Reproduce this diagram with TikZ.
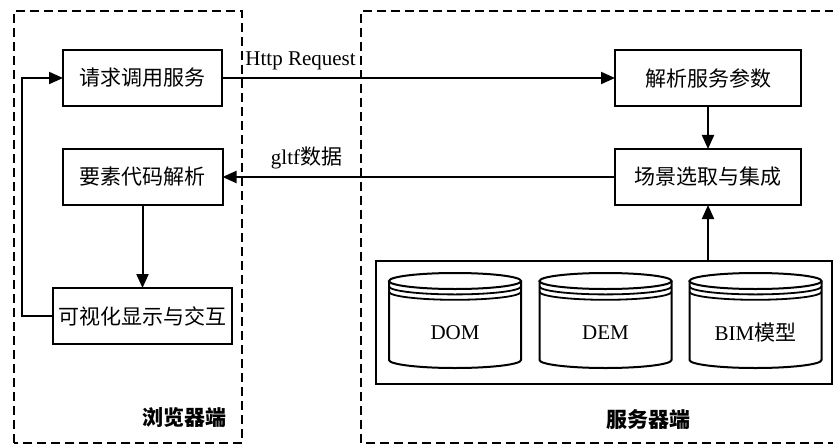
\documentclass[tikz,border=0pt]{standalone}
\usepackage{fontspec}
\setmainfont{Liberation Serif}
\newfontfamily\cjk{Noto Sans CJK SC}
\usetikzlibrary{arrows.meta,positioning}

% database drum: outline, top lid with two rings, centred label
\tikzset{
  pics/drum/.style={code={
    \draw[line width=1pt] (-33pt,19.75pt) -- (-33pt,-19.75pt)
      arc[start angle=180,end angle=360,x radius=33pt,y radius=4pt] -- (33pt,19.75pt);
    \draw[line width=1pt] (0,19.75pt) ellipse[x radius=33pt,y radius=4pt];
    \foreach \d in {2.7,5.4}
      \draw[line width=0.9pt] (-33pt,19.75pt-\d pt) arc[start angle=180,end angle=360,x radius=33pt,y radius=4pt];
    \node (-lbl) at (0,-6pt) {#1};
  }}
}

\begin{document}
\begin{tikzpicture}[
    x=1pt, y=1pt,
    every node/.style={font=\fontsize{10.5pt}{12pt}\selectfont},
    box/.style={draw, line width=1pt, minimum height=28pt, inner sep=0pt, outer sep=0pt},
    arr/.style={-{Triangle[length=7pt,width=6pt]}, line width=1pt},
    frame/.style={dash pattern=on 4.5pt off 2.5pt, line width=0.75pt}
  ]
  \useasboundingbox (0,0) rectangle (416.5,222.5);

  % browser side
  \node[box, minimum width=79.5pt] (req) at (71.25,183.5) {\cjk 请求调用服务};
  \node[box, minimum width=80pt, below=21.5pt of req] (parse) {\cjk 要素代码解析};
  \node[box, minimum width=89.5pt, below=41.5pt of parse] (vis) {\cjk 可视化显示与交互};

  % server side
  \node[box, minimum width=93pt] (param) at (354,183.5) {\cjk 解析服务参数};
  \node[box, minimum width=93pt, below=21.5pt of param] (scene) {\cjk 场景选取与集成};
  \node[draw, line width=1pt, minimum width=228pt, minimum height=61.5pt, inner sep=0pt, outer sep=0pt] (store) at (302,61.25) {};
  \pic (dom) at (227.5,62.25) {drum=DOM};
  \pic (dem) at (302.75,62.25) {drum=DEM};
  \pic (bim) at (377.75,62.25) {drum={BIM{\cjk 模型}}};

  % client / server frames
  \draw[frame] (7,1) rectangle (121,217);
  \draw[frame] (180.5,1) rectangle (430,217);
  \node (brw) at (92,13.5) {\cjk\bfseries 浏览器端};
  \node (srv) at (324,12.5) {\cjk\bfseries 服务器端};

  \draw[arr] (req) -- node[above, pos=0.2] (httplbl) {Http Request} (param);
  \draw[arr] (scene) -- node[above, pos=0.786] (gltflbl) {gltf{\cjk 数据}} (parse);
  \draw[arr] (parse) -- (vis);
  \draw[arr] (param) -- (scene);
  \draw[arr] (scene.south |- store.north) -- (scene.south);
  \coordinate (back) at (11,0);
  \draw[arr] (vis.west) -- (vis.west -| back) |- (req.west);
\end{tikzpicture}
\end{document}
